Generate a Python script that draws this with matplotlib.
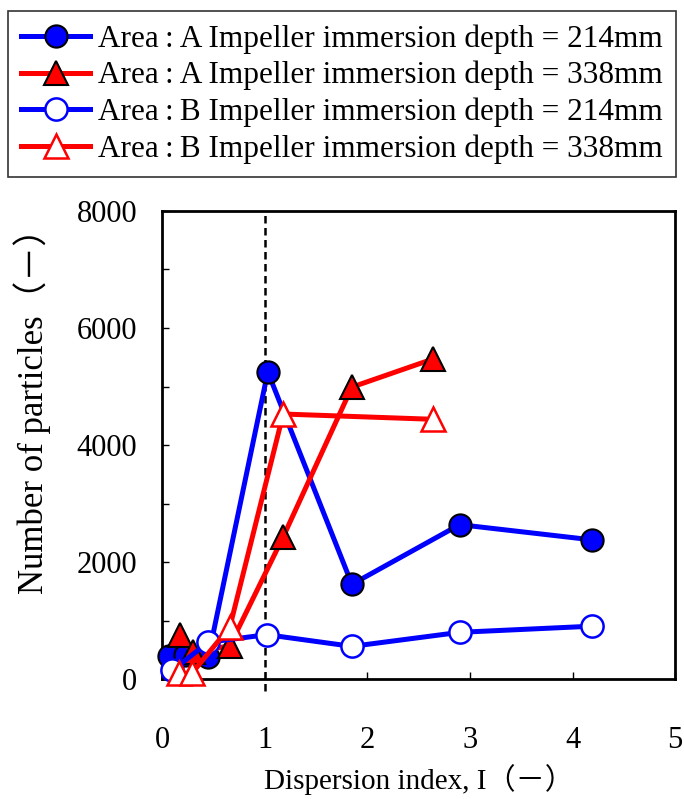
import matplotlib
matplotlib.use("Agg")
import matplotlib.pyplot as plt

plt.rcParams['font.family'] = ['Liberation Serif', 'Noto Sans CJK JP']

# Area A, immersion depth 214 mm (filled circles)
a214_x = [0.07, 0.22, 0.45, 1.03, 1.85, 2.90, 4.19]
a214_y = [390, 410, 380, 5250, 1620, 2640, 2380]
# Area A, immersion depth 338 mm (filled triangles)
a338_x = [0.17, 0.30, 0.66, 1.18, 1.85, 2.64]
a338_y = [750, 460, 570, 2430, 4990, 5470]
# Area B, immersion depth 214 mm (open circles)
b214_x = [0.10, 0.45, 1.02, 1.85, 2.90, 4.19]
b214_y = [150, 630, 760, 560, 800, 905]
# Area B, immersion depth 338 mm (open triangles)
b338_x = [0.16, 0.29, 0.66, 1.18, 2.64]
b338_y = [100, 100, 890, 4530, 4440]

labels = [
    "Area\u2009:\u2009A Impeller immersion depth = 214mm",
    "Area\u2009:\u2009A Impeller immersion depth = 338mm",
    "Area\u2009:\u2009B Impeller immersion depth = 214mm",
    "Area\u2009:\u2009B Impeller immersion depth = 338mm",
]

fig = plt.figure(figsize=(6.84, 7.99), dpi=100)
ax = fig.add_axes([0.237, 0.150, 0.750, 0.586])

ax.axvline(1, ymin=-0.025, ymax=1, color='black', linestyle=(0, (3, 1.8)),
           linewidth=1.8, clip_on=False, zorder=1)

lw = 3.6
ms = 16
ax.plot(a214_x, a214_y, '-o', color='#0000ff', lw=lw, ms=ms,
        mfc='#0000ff', mec='black', mew=1.5, label=labels[0], clip_on=False, zorder=3)
ax.plot(a338_x, a338_y, '-^', color='#ff0000', lw=lw, ms=ms + 1,
        mfc='#ff0000', mec='black', mew=1.5, label=labels[1], clip_on=False, zorder=3)
ax.plot(b214_x, b214_y, '-o', color='#0000ff', lw=lw, ms=ms,
        mfc='white', mec='#0000ff', mew=1.8, label=labels[2], clip_on=False, zorder=3)
ax.plot(b338_x, b338_y, '-^', color='#ff0000', lw=lw, ms=ms + 1,
        mfc='white', mec='#ff0000', mew=1.8, label=labels[3], clip_on=False, zorder=3)

ax.set_xlim(0, 5)
ax.set_ylim(0, 8000)
ax.set_xticks(range(0, 6))
ax.set_yticks(range(0, 8001, 1000))
ax.set_yticklabels([str(v) if v % 2000 == 0 else '' for v in range(0, 8001, 1000)])
ax.tick_params(axis='both', direction='in', length=5, width=1, labelsize=22)
ax.tick_params(axis='x', pad=34)
ax.tick_params(axis='y', pad=18)
for s in ax.spines.values():
    s.set_linewidth(2)

ax.set_xlabel("Dispersion index, I（－）", fontsize=21, labelpad=6)
ax.set_ylabel("Number of particles（－）", fontsize=25)
ax.yaxis.set_label_coords(-0.216, 0.59)

leg = fig.legend(loc='upper center', bbox_to_anchor=(0.5, 0.986), fontsize=22.5,
                 frameon=True, fancybox=False, edgecolor='black', handlelength=2.2,
                 handletextpad=0.25, labelspacing=0.23, borderpad=0.42,
                 borderaxespad=0.0)
leg.get_frame().set_linewidth(1.2)

fig.savefig("out.png", dpi=100)
